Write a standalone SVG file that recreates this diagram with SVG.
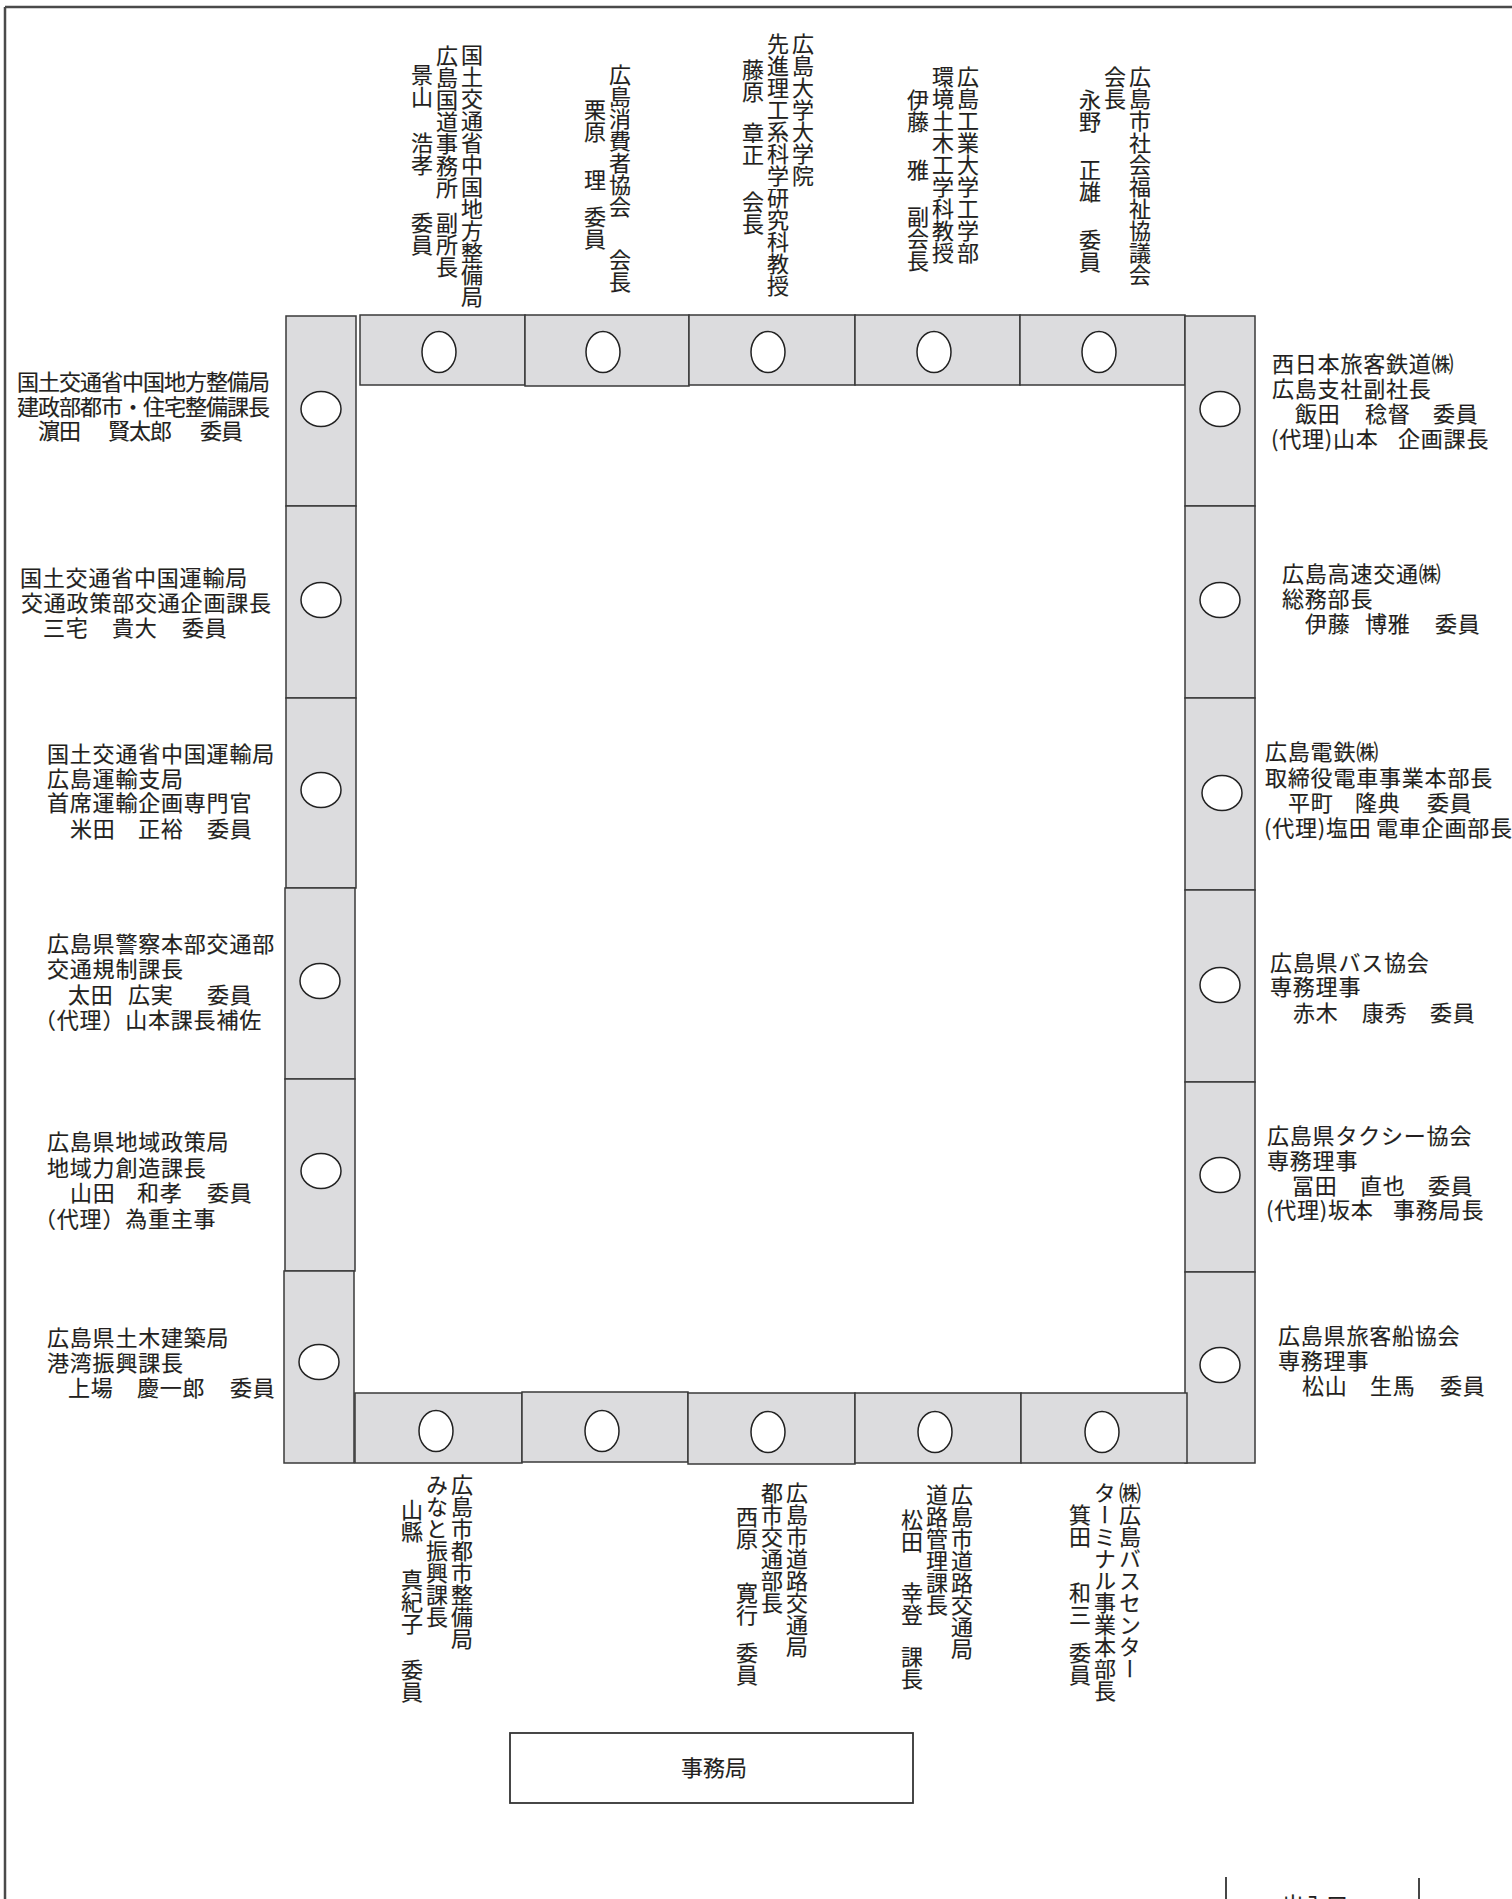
<svg xmlns="http://www.w3.org/2000/svg" width="1512" height="1899" viewBox="0 0 1512 1899">
<style>
.frame{stroke:#4a4a4a;stroke-width:2.5;fill:none}
.cell{fill:#dcdcde;stroke:#3a3a3a;stroke-width:1.5}
.seat{fill:#ffffff;stroke:#222222;stroke-width:1.5}
.box{fill:#ffffff;stroke:#333333;stroke-width:1.8}
.door{stroke:#333333;stroke-width:1.8}
text{font-family:"Noto Sans CJK JP","Noto Sans CJK SC",sans-serif;font-size:22px;fill:#231f20;stroke:#231f20;stroke-width:0.15}
.h{letter-spacing:0.8px}
.c{letter-spacing:-1px}
.v{writing-mode:vertical-rl;letter-spacing:0px}
</style>

<g id="frame">
<line class="frame" x1="5" y1="7" x2="1512" y2="7"/>
<line class="frame" x1="5" y1="7" x2="5" y2="1899"/>
</g>

<g id="table-top">
<rect class="cell" x="360" y="315" width="165" height="70"/>
<rect class="cell" x="525" y="315" width="164" height="71"/>
<rect class="cell" x="689" y="315" width="166" height="70"/>
<rect class="cell" x="855" y="315" width="165" height="70"/>
<rect class="cell" x="1020" y="315" width="165" height="70"/>
</g>
<g id="table-left">
<rect class="cell" x="286" y="316" width="70" height="190"/>
<rect class="cell" x="286" y="506" width="70" height="192"/>
<rect class="cell" x="286" y="698" width="70" height="190"/>
<rect class="cell" x="285" y="888" width="70" height="191"/>
<rect class="cell" x="285" y="1079" width="70" height="192"/>
<rect class="cell" x="284" y="1271" width="70" height="192"/>
</g>
<g id="table-right">
<rect class="cell" x="1185" y="316" width="70" height="190"/>
<rect class="cell" x="1185" y="506" width="70" height="192"/>
<rect class="cell" x="1185" y="698" width="70" height="192"/>
<rect class="cell" x="1185" y="890" width="70" height="192"/>
<rect class="cell" x="1185" y="1082" width="70" height="190"/>
<rect class="cell" x="1185" y="1272" width="70" height="191"/>
</g>
<g id="table-bottom">
<rect class="cell" x="355" y="1393" width="167" height="70"/>
<rect class="cell" x="522" y="1392" width="166" height="70"/>
<rect class="cell" x="688" y="1393" width="167" height="71"/>
<rect class="cell" x="855" y="1393" width="166" height="70"/>
<rect class="cell" x="1021" y="1393" width="166" height="70"/>
</g>

<g id="seats">
<ellipse class="seat" cx="439" cy="352" rx="17" ry="20.5"/>
<ellipse class="seat" cx="603" cy="352" rx="17" ry="20.5"/>
<ellipse class="seat" cx="768" cy="352" rx="17" ry="20.5"/>
<ellipse class="seat" cx="934" cy="352" rx="17" ry="20.5"/>
<ellipse class="seat" cx="1099" cy="352" rx="17" ry="20.5"/>
<ellipse class="seat" cx="321" cy="409" rx="20" ry="17.5"/>
<ellipse class="seat" cx="321" cy="600" rx="20" ry="17.5"/>
<ellipse class="seat" cx="321" cy="790" rx="20" ry="17.5"/>
<ellipse class="seat" cx="320" cy="981" rx="20" ry="17.5"/>
<ellipse class="seat" cx="321" cy="1171" rx="20" ry="17.5"/>
<ellipse class="seat" cx="319" cy="1362" rx="20" ry="17.5"/>
<ellipse class="seat" cx="1220" cy="409" rx="20" ry="17.5"/>
<ellipse class="seat" cx="1220" cy="600" rx="20" ry="17.5"/>
<ellipse class="seat" cx="1222" cy="793" rx="20" ry="17.5"/>
<ellipse class="seat" cx="1220" cy="985" rx="20" ry="17.5"/>
<ellipse class="seat" cx="1220" cy="1175" rx="20" ry="17.5"/>
<ellipse class="seat" cx="1220" cy="1365" rx="20" ry="17.5"/>
<ellipse class="seat" cx="436" cy="1431" rx="17" ry="20.5"/>
<ellipse class="seat" cx="602" cy="1431" rx="17" ry="20.5"/>
<ellipse class="seat" cx="768" cy="1432" rx="17" ry="20.5"/>
<ellipse class="seat" cx="935" cy="1432" rx="17" ry="20.5"/>
<ellipse class="seat" cx="1102" cy="1432" rx="17" ry="20.5"/>
</g>

<g id="top-1">
<text class="v" x="472" y="44">国土交通省中国地方整備局</text>
<text class="v" x="447" y="45">広島国道事務所<tspan y="212">副所長</tspan></text>
<text class="v" x="422" y="64">景山<tspan y="132">浩孝</tspan><tspan y="212">委員</tspan></text>
</g>
<g id="top-2">
<text class="v" x="620" y="64">広島消費者協会<tspan y="249">会長</tspan></text>
<text class="v" x="595" y="99">栗原<tspan y="169">理</tspan><tspan y="206">委員</tspan></text>
</g>
<g id="top-3">
<text class="v" x="803" y="33">広島大学大学院</text>
<text class="v" x="778" y="33">先進理工系科学研究科教授</text>
<text class="v" x="753" y="59">藤原<tspan y="122">章正</tspan><tspan y="191">会長</tspan></text>
</g>
<g id="top-4">
<text class="v" x="968" y="66">広島工業大学工学部</text>
<text class="v" x="943" y="66">環境土木工学科教授</text>
<text class="v" x="918" y="89">伊藤<tspan y="159">雅</tspan><tspan y="206">副会長</tspan></text>
</g>
<g id="top-5">
<text class="v" x="1140" y="66">広島市社会福祉協議会</text>
<text class="v" x="1115" y="66">会長</text>
<text class="v" x="1090" y="89">永野<tspan y="159">正雄</tspan><tspan y="229">委員</tspan></text>
</g>

<g id="left-1">
<text class="c" x="17" y="390">国土交通省中国地方整備局</text>
<text class="c" x="17" y="415">建政部都市・住宅整備課長</text>
<text class="c" x="38" y="439">濵田<tspan x="108">賢太郎</tspan><tspan x="200">委員</tspan></text>
</g>
<g id="left-2">
<text class="h" x="20" y="586">国土交通省中国運輸局</text>
<text class="h" x="21" y="611">交通政策部交通企画課長</text>
<text class="h" x="43" y="636">三宅<tspan x="112">貴大</tspan><tspan x="182">委員</tspan></text>
</g>
<g id="left-3">
<text class="h" x="47" y="762">国土交通省中国運輸局</text>
<text class="h" x="47" y="787">広島運輸支局</text>
<text class="h" x="47" y="811">首席運輸企画専門官</text>
<text class="h" x="70" y="837">米田<tspan x="138">正裕</tspan><tspan x="207">委員</tspan></text>
</g>
<g id="left-4">
<text class="h" x="47" y="952">広島県警察本部交通部</text>
<text class="h" x="47" y="977">交通規制課長</text>
<text class="h" x="68" y="1003">太田<tspan x="128">広実</tspan><tspan x="207">委員</tspan></text>
<text class="h" x="34" y="1028">（代理）山本課長補佐</text>
</g>
<g id="left-5">
<text class="h" x="47" y="1150">広島県地域政策局</text>
<text class="h" x="47" y="1176">地域力創造課長</text>
<text class="h" x="70" y="1201">山田<tspan x="137">和孝</tspan><tspan x="207">委員</tspan></text>
<text class="h" x="34" y="1227">（代理）為重主事</text>
</g>
<g id="left-6">
<text class="h" x="47" y="1346">広島県土木建築局</text>
<text class="h" x="47" y="1371">港湾振興課長</text>
<text class="h" x="68" y="1396">上場<tspan x="137">慶一郎</tspan><tspan x="230">委員</tspan></text>
</g>

<g id="right-1">
<text class="h" x="1272" y="372">西日本旅客鉄道㈱</text>
<text class="h" x="1272" y="397">広島支社副社長</text>
<text class="h" x="1295" y="422">飯田<tspan x="1365">稔督</tspan><tspan x="1433">委員</tspan></text>
<text class="h" x="1271" y="447">(代理)山本<tspan x="1398">企画課長</tspan></text>
</g>
<g id="right-2">
<text class="h" x="1282" y="582">広島高速交通㈱</text>
<text class="h" x="1282" y="607">総務部長</text>
<text class="h" x="1305" y="632">伊藤<tspan x="1365">博雅</tspan><tspan x="1435">委員</tspan></text>
</g>
<g id="right-3">
<text class="h" x="1265" y="760">広島電鉄㈱</text>
<text class="h" x="1265" y="786">取締役電車事業本部長</text>
<text class="h" x="1288" y="811">平町<tspan x="1355">隆典</tspan><tspan x="1427">委員</tspan></text>
<text class="h" x="1264" y="836">(代理)塩田<tspan x="1376">電車企画部長</tspan></text>
</g>
<g id="right-4">
<text class="h" x="1270" y="971">広島県バス協会</text>
<text class="h" x="1270" y="995">専務理事</text>
<text class="h" x="1293" y="1021">赤木<tspan x="1362">康秀</tspan><tspan x="1430">委員</tspan></text>
</g>
<g id="right-5">
<text class="h" x="1267" y="1144">広島県タクシー協会</text>
<text class="h" x="1267" y="1169">専務理事</text>
<text class="h" x="1292" y="1194">冨田<tspan x="1360">直也</tspan><tspan x="1428">委員</tspan></text>
<text class="h" x="1266" y="1218">(代理)坂本<tspan x="1393">事務局長</tspan></text>
</g>
<g id="right-6">
<text class="h" x="1278" y="1344">広島県旅客船協会</text>
<text class="h" x="1278" y="1369">専務理事</text>
<text class="h" x="1302" y="1394">松山<tspan x="1370">生馬</tspan><tspan x="1440">委員</tspan></text>
</g>

<g id="bottom-1">
<text class="v" x="462" y="1474">広島市都市整備局</text>
<text class="v" x="437" y="1474">みなと振興課長</text>
<text class="v" x="412" y="1499">山縣<tspan y="1569">真紀子</tspan><tspan y="1659">委員</tspan></text>
</g>
<g id="bottom-3">
<text class="v" x="797" y="1482">広島市道路交通局</text>
<text class="v" x="772" y="1482">都市交通部長</text>
<text class="v" x="747" y="1506">西原<tspan y="1582">寛行</tspan><tspan y="1642">委員</tspan></text>
</g>
<g id="bottom-4">
<text class="v" x="962" y="1484">広島市道路交通局</text>
<text class="v" x="937" y="1484">道路管理課長</text>
<text class="v" x="912" y="1509">松田<tspan y="1582">幸登</tspan><tspan y="1646">課長</tspan></text>
</g>
<g id="bottom-5">
<text class="v" x="1130" y="1482">㈱広島バスセンター</text>
<text class="v" x="1105" y="1482">ターミナル事業本部長</text>
<text class="v" x="1080" y="1504">箕田<tspan y="1582">和三</tspan><tspan y="1642">委員</tspan></text>
</g>

<g id="secretariat">
<rect class="box" x="510" y="1733" width="403" height="70"/>
<text x="714" y="1776" text-anchor="middle">事務局</text>
</g>

<g id="entrance">
<line class="door" x1="1226" y1="1877" x2="1226" y2="1899"/>
<line class="door" x1="1419" y1="1878" x2="1419" y2="1899"/>
<text x="1315" y="1913" text-anchor="middle">出入口</text>
</g>
</svg>
